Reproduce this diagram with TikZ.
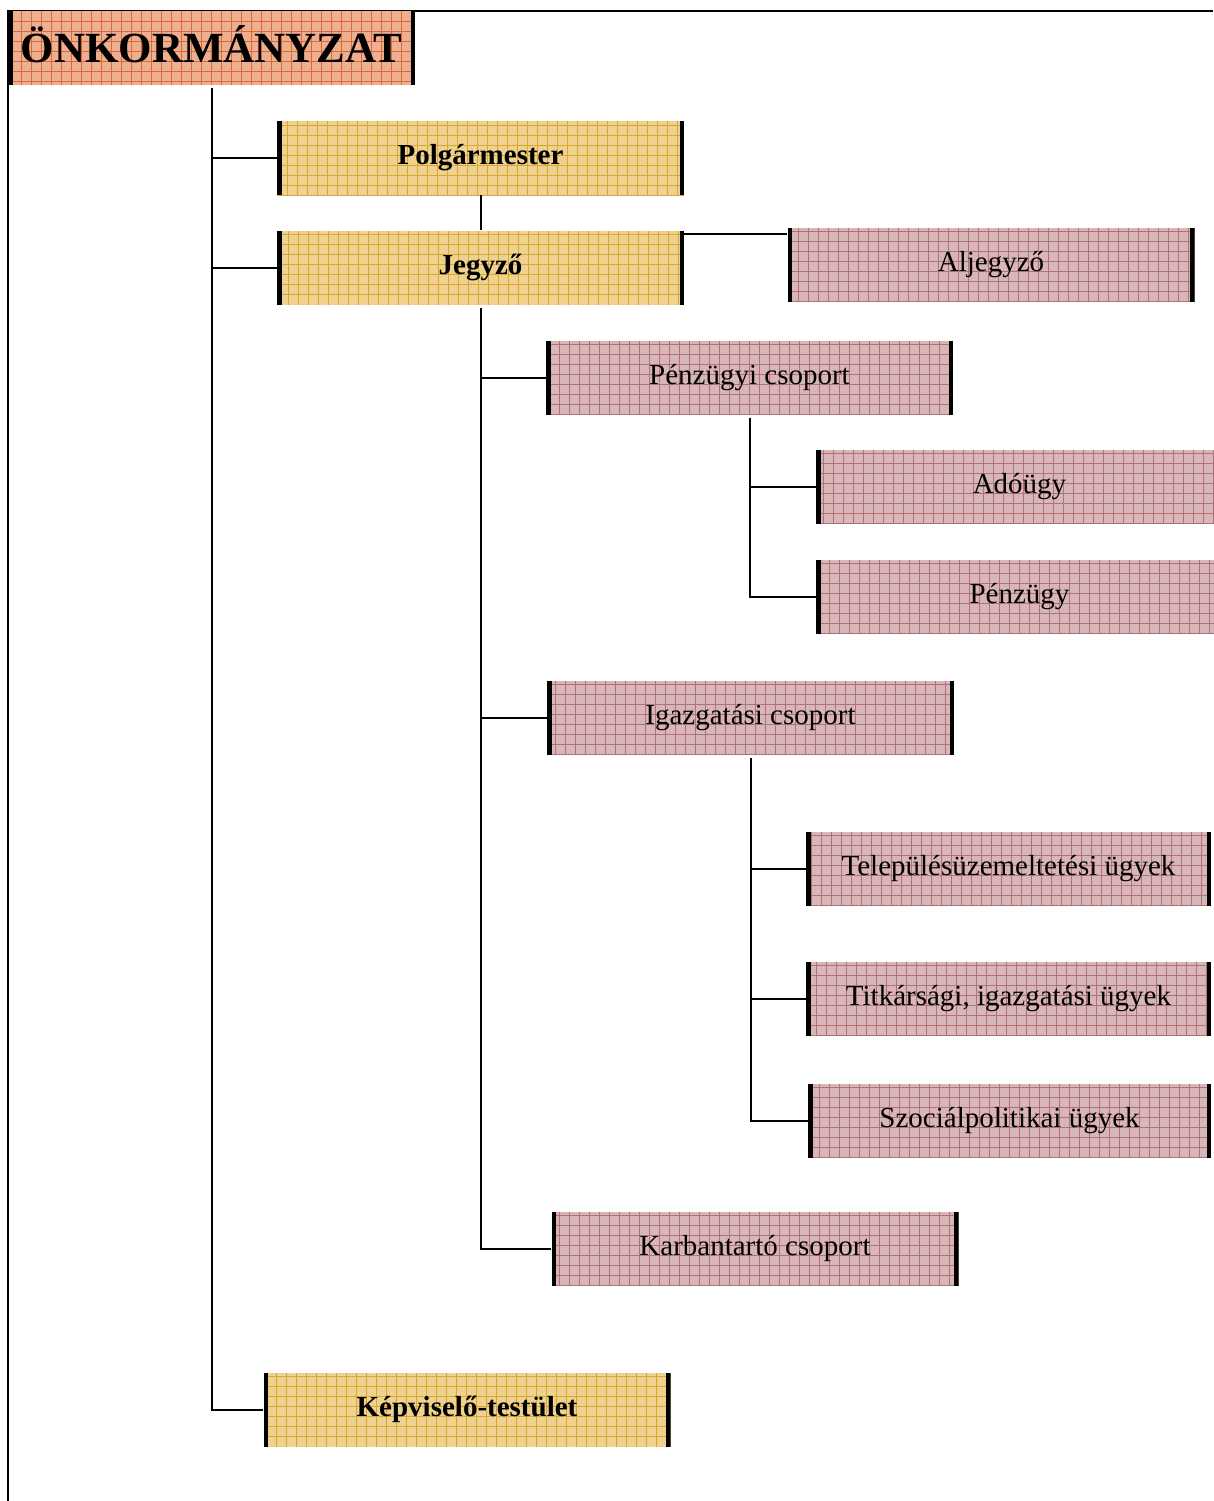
\documentclass[tikz,border=0pt]{standalone}
\usepackage{fontspec}
\setmainfont{Liberation Serif}
\definecolor{orfill}{HTML}{EEAE90}
\definecolor{orgrid}{HTML}{D86A38}
\definecolor{yefill}{HTML}{EFD28F}
\definecolor{yegrid}{HTML}{D9A830}
\definecolor{pkfill}{HTML}{D8B6B8}
\definecolor{pkgrid}{HTML}{AF7278}
\tikzset{
  unitbox/.style={minimum width=407pt, minimum height=74pt, inner sep=0pt,
    fill=#1fill, font=\fontsize{29}{34}\selectfont,
    path picture={
      \draw[#1grid, line width=0.55pt, xstep=10pt, ystep=10pt]
        (path picture bounding box.south west) grid (path picture bounding box.north east);
      \fill[black] (path picture bounding box.south west) rectangle ([xshift=4.5pt]path picture bounding box.north west);
      \fill[black] ([xshift=-4.5pt]path picture bounding box.south east) rectangle (path picture bounding box.north east);
    }},
  orbox/.style={unitbox=or, font=\fontsize{43}{48}\selectfont\bfseries},
  yebox/.style={unitbox=ye, font=\fontsize{29}{34}\selectfont\bfseries},
  pkbox/.style={unitbox=pk},
  conn/.style={line width=2pt, black},
  frame/.style={line width=2pt, black}
}
\begin{document}
\begin{tikzpicture}[x=1pt,y=1pt]
\useasboundingbox (0,0) rectangle (1213,-1501);
\draw[frame] (1213,-11) -- (8,-11) -- (8,-1501);
\node[orbox] (onk) at (211.5,-48.5) {\raisebox{9pt}{ÖNKORMÁNYZAT}};
\node[yebox] (polg) at (480.5,-158) {Polgármester};
\node[yebox] (jegy) at (480.5,-267.5) {Jegyző};
\node[pkbox] (aljegy) at (991,-264.5) {Aljegyző};
\node[pkbox] (penzcs) at (749.5,-377.5) {Pénzügyi csoport};
\node[pkbox] (ado) at (1019.5,-486.5) {Adóügy};
\node[pkbox] (penz) at (1019.5,-596.5) {Pénzügy};
\node[pkbox] (igcs) at (750.5,-717.5) {Igazgatási csoport};
\node[pkbox, minimum width=405pt] (telep) at (1008.5,-868.5) {Településüzemeltetési ügyek};
\node[pkbox, minimum width=405pt] (titk) at (1008.5,-998.5) {Titkársági, igazgatási ügyek};
\node[pkbox, minimum width=403pt] (szoc) at (1009.5,-1120.5) {Szociálpolitikai ügyek};
\node[pkbox] (karb) at (755,-1248.5) {Karbantartó csoport};
\node[yebox] (kepv) at (467,-1409.5) {Képviselő-testület};
% trunk from Önkormányzat
\coordinate (t0) at (212,-88);
\draw[conn] (t0) |- (kepv.west);
\draw[conn] (t0 |- polg.west) -- (polg.west);
\draw[conn] (t0 |- jegy.west) -- (jegy.west);
% Polgármester - Jegyző
\draw[conn] (polg.south) -- (jegy.north);
% Jegyző - Aljegyző
\draw[conn] ([yshift=-7pt]aljegy.north west) -- ([yshift=-7pt]aljegy.north west -| jegy.east);
% Jegyző trunk
\coordinate (t1) at ([yshift=-3pt]jegy.south);
\draw[conn] (t1) |- (karb.west);
\draw[conn] (t1 |- penzcs.west) -- (penzcs.west);
\draw[conn] (t1 |- igcs.west) -- (igcs.west);
% Pénzügyi csoport trunk
\coordinate (t2) at ([yshift=-3pt]penzcs.south);
\draw[conn] (t2) |- (penz.west);
\draw[conn] (t2 |- ado.west) -- (ado.west);
% Igazgatási csoport trunk
\coordinate (t3) at ([yshift=-3pt]igcs.south);
\draw[conn] (t3) |- (szoc.west);
\draw[conn] (t3 |- telep.west) -- (telep.west);
\draw[conn] (t3 |- titk.west) -- (titk.west);
\end{tikzpicture}
\end{document}
